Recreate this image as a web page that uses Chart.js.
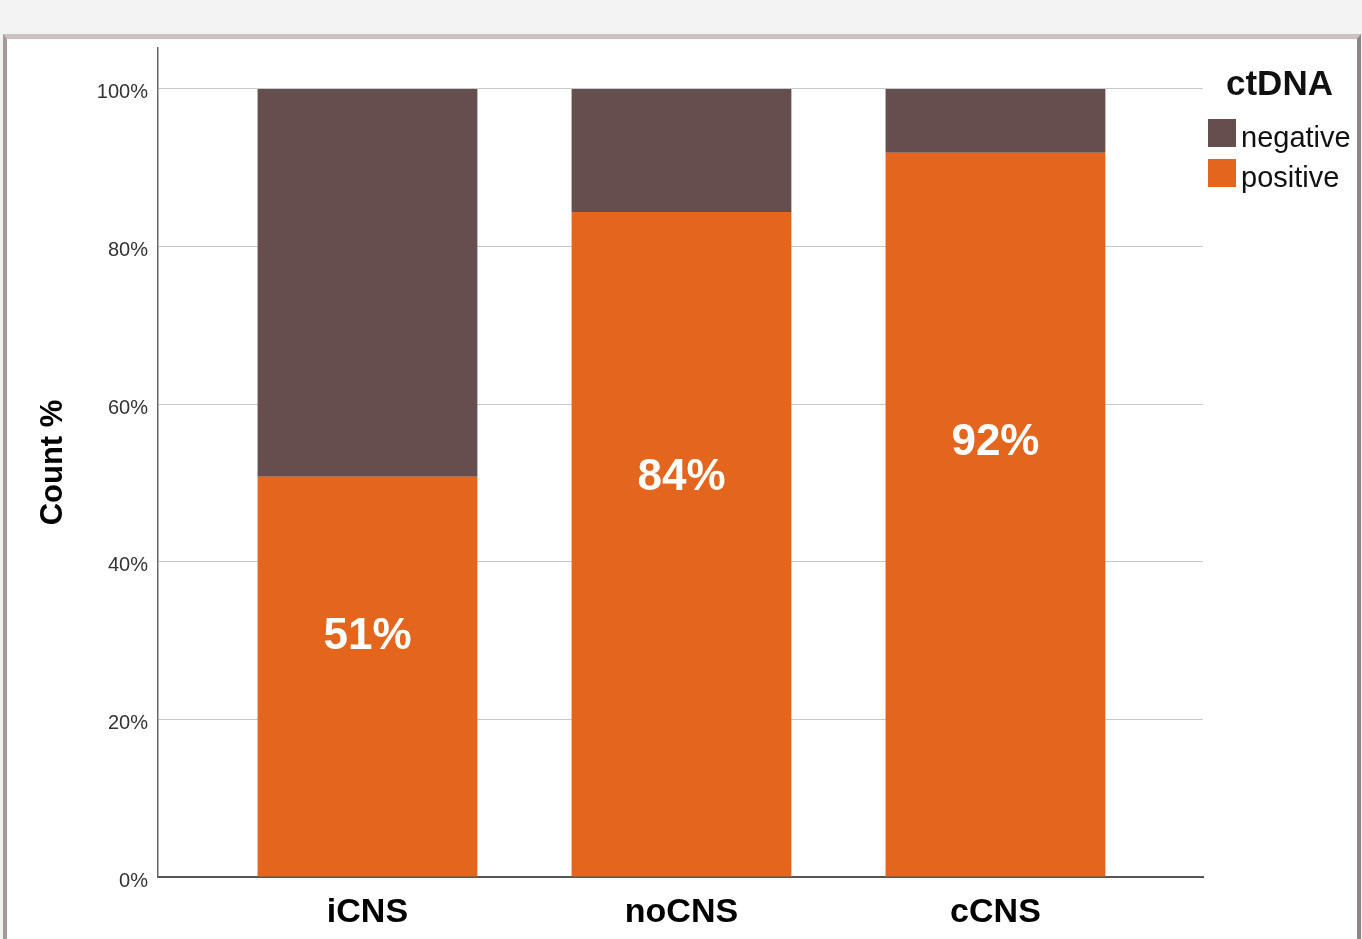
<!DOCTYPE html>
<html>
<head>
<meta charset="utf-8">
<script src="https://cdn.jsdelivr.net/npm/chart.js@4.4.1/dist/chart.umd.min.js"></script>
<style>
  html, body { margin: 0; padding: 0; width: 1362px; height: 939px; overflow: hidden; background: #f3f3f3; }
  .frame { position: absolute; left: 3px; top: 34px; width: 1350px; height: 920px; background: #ffffff;
           border-left: 4px solid #a39a9a; border-top: 5px solid #cbc1c1; border-right: 4px solid #8c8686; }
  #wrap { position: absolute; left: 0; top: 0; width: 1362px; height: 939px; }
</style>
</head>
<body>
<div class="frame"></div>
<div id="wrap"><canvas id="c" width="1362" height="939"></canvas></div>
<script>
// ---- data ----
const categories = ['iCNS', 'noCNS', 'cCNS'];
const positivePct = [50.8, 84.4, 91.9];
const negativePct = [49.2, 15.6, 8.1];
const yTicks = [0, 20, 40, 60, 80, 100];
const legendTitle = 'ctDNA';
const seriesNames = { positive: 'positive', negative: 'negative' };

const ORANGE = '#e4661e';
const BROWN = '#654e4d';
const FONT = '"Liberation Sans", Arial, Helvetica, sans-serif';

const toPts = arr => arr.map((v, i) => ({ x: i + 1, y: v }));

const barLabels = {
  id: 'barLabels',
  afterDatasetsDraw(chart) {
    const ctx = chart.ctx;
    const xs = chart.scales.x, ys = chart.scales.y;
    ctx.save();
    ctx.fillStyle = '#ffffff';
    ctx.font = 'bold 44px ' + FONT;
    ctx.textAlign = 'center';
    ctx.textBaseline = 'middle';
    positivePct.forEach((v, i) => {
      ctx.fillText(Math.round(v) + '%', xs.getPixelForValue(i + 1), ys.getPixelForValue(v * 0.6));
    });
    ctx.restore();
  }
};

const customLegend = {
  id: 'customLegend',
  afterDraw(chart) {
    const ctx = chart.ctx;
    const left = chart.chartArea.right + 5;
    ctx.save();
    ctx.fillStyle = '#111111';
    ctx.font = 'bold 35px ' + FONT;
    ctx.textAlign = 'left';
    ctx.textBaseline = 'alphabetic';
    ctx.fillText(legendTitle, left + 18, 95);
    const items = [chart.data.datasets[1], chart.data.datasets[0]];
    ctx.font = '29px ' + FONT;
    items.forEach((ds, k) => {
      const top = 119 + k * 40;
      ctx.fillStyle = ds.backgroundColor;
      ctx.fillRect(left, top, 28, 28);
      ctx.fillStyle = '#111111';
      ctx.fillText(ds.label, left + 33, top + 28);
    });
    ctx.restore();
  }
};

new Chart(document.getElementById('c'), {
  type: 'bar',
  data: {
    datasets: [
      { label: seriesNames.positive, data: toPts(positivePct), backgroundColor: ORANGE, borderWidth: 0 },
      { label: seriesNames.negative, data: toPts(negativePct), backgroundColor: BROWN, borderWidth: 0 }
    ]
  },
  options: {
    responsive: false,
    animation: false,
    events: [],
    barPercentage: 0.7,
    categoryPercentage: 1.0,
    layout: { padding: { left: 0, top: 48, right: 159, bottom: 0 } },
    plugins: { legend: { display: false }, tooltip: { enabled: false } },
    scales: {
      x: {
        type: 'linear',
        stacked: true,
        offset: false,
        min: 0.3328,
        max: 3.661,
        grid: { display: false, drawTicks: false, offset: false },
        border: { display: true, color: '#555555', width: 2 },
        afterBuildTicks: s => { s.ticks = categories.map((c, i) => ({ value: i + 1 })); },
        afterFit: s => { s.height = 62; },
        ticks: {
          autoSkip: false, maxRotation: 0, padding: 15,
          color: '#000000',
          font: { family: FONT, size: 34, weight: 'bold' },
          callback: v => categories[Math.round(v) - 1] || ''
        }
      },
      y: {
        stacked: true,
        min: 0,
        max: 105.2,
        afterBuildTicks: s => { s.ticks = yTicks.map(v => ({ value: v })); },
        afterFit: s => { s.width = 158; },
        grid: { color: '#c8c8c8', lineWidth: 1, drawTicks: false },
        border: { display: true, color: '#666666', width: 1.5 },
        ticks: {
          padding: 10,
          labelOffset: 4,
          color: '#333333',
          font: { family: FONT, size: 20 },
          callback: v => v + '%'
        },
        title: {
          display: true,
          text: 'Count %',
          color: '#000000',
          font: { family: FONT, size: 31, weight: 'bold' },
          padding: { top: 35, bottom: 0 }
        }
      }
    }
  },
  plugins: [barLabels, customLegend]
});
</script>
</body>
</html>
